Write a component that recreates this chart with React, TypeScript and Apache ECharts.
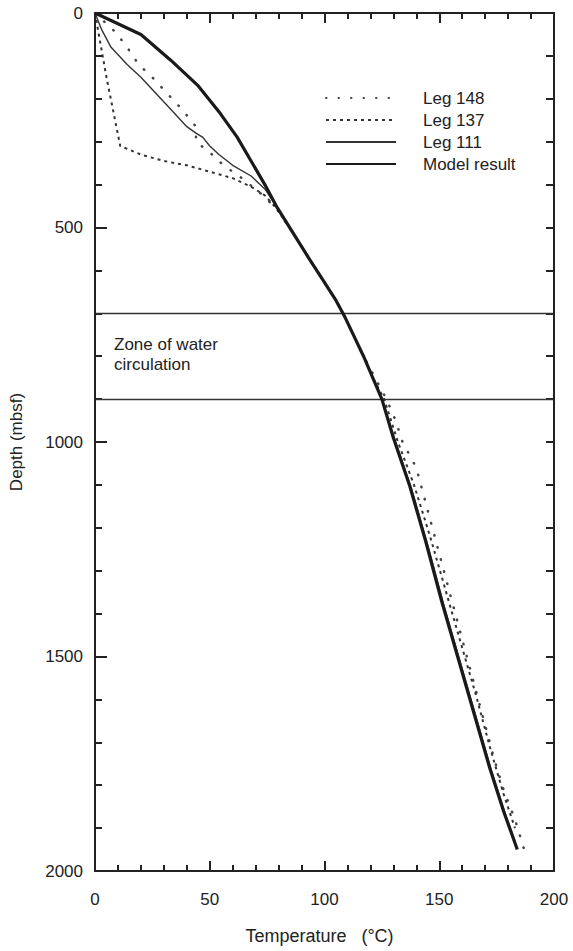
import React, { useEffect, useRef } from "react";
import * as echarts from "echarts";

// [temperature °C, depth mbsf]
const model: [number, number][] = [
  [0, 0], [20, 50], [33, 110], [45, 170], [54, 230], [62, 290], [68, 345], [74, 400], [79, 450],
  [86, 510], [93, 570], [99, 620], [105, 670], [109, 710], [113, 755], [117, 800], [121, 850],
  [125, 900], [130, 990], [137, 1100], [144, 1230], [151, 1370], [158, 1500],
  [165, 1630], [172, 1760], [178, 1860], [184, 1950],
];
const leg111: [number, number][] = [
  [0, 0], [3, 40], [7, 80], [14, 120], [20, 150], [27, 190], [34, 230], [40, 265], [44, 280], [47, 290],
  [50, 310], [54, 330], [60, 355], [68, 380], [74, 410], [79, 450], [86, 510], [93, 570], [99, 620],
  [105, 670], [109, 710], [113, 755], [117, 800], [121, 850], [125, 900], [131, 1000],
  [138, 1110], [145, 1240], [152, 1380], [159, 1510], [166, 1640], [173, 1770], [179, 1870], [183, 1930],
];
const leg137: [number, number][] = [
  [0, 0], [2, 60], [5, 150], [8, 230], [11, 310], [20, 330], [30, 345], [40, 355], [50, 370], [60, 385],
  [68, 405], [74, 425], [79, 455], [86, 510], [93, 570], [99, 620], [105, 670], [109, 710], [113, 755],
  [117, 800], [121, 850], [126, 900], [132, 1000], [139, 1100], [146, 1220], [153, 1350],
  [160, 1480], [166, 1590], [172, 1710], [178, 1820], [183, 1900],
];
const leg148: [number, number][] = [
  [0, 0], [9, 45], [14, 80], [19, 120], [25, 150], [31, 185], [38, 225], [44, 265], [44, 300], [50, 325],
  [56, 355], [64, 385], [72, 420], [79, 455], [86, 510], [93, 570], [99, 620], [105, 670], [109, 710],
  [113, 755], [117, 800], [122, 850], [127, 900], [131, 950], [134, 1000], [140, 1060],
  [143, 1120], [146, 1180], [150, 1260], [154, 1340], [158, 1420], [162, 1500], [166, 1580],
  [170, 1660], [174, 1740], [178, 1810], [183, 1880], [187, 1950],
];
const zoneLines = [700, 900];
const xTicks = [0, 50, 100, 150, 200];
const yTicks = [0, 500, 1000, 1500, 2000];

const FONT = "Liberation Sans, Arial, Helvetica, sans-serif";
const INK = "#222222";

const GRID = { left: 95, right: 19, top: 13, bottom: 80 };

function lineStyle() {
  return { color: INK, width: 2 };
}

function makeX(position: "top" | "bottom", showLabels: boolean) {
  return {
    type: "value",
    position,
    min: xTicks[0],
    max: xTicks[xTicks.length - 1],
    interval: 50,
    axisLine: { show: true, onZero: false, lineStyle: lineStyle() },
    axisTick: { show: true, inside: true, length: 10, lineStyle: lineStyle() },
    minorTick: { show: true, splitNumber: 5, length: 6, lineStyle: lineStyle() },
    splitLine: { show: false },
    axisLabel: showLabels
      ? { show: true, fontFamily: FONT, fontSize: 17, color: INK, margin: 20, formatter: (v: number) => String(v) }
      : { show: false },
  };
}

function makeY(position: "left" | "right", showLabels: boolean, major: number, minor: number) {
  return {
    type: "value",
    position,
    inverse: true,
    min: yTicks[0],
    max: yTicks[yTicks.length - 1],
    interval: 500,
    axisLine: { show: true, onZero: false, lineStyle: lineStyle() },
    axisTick: { show: true, inside: true, length: major, lineStyle: lineStyle() },
    minorTick: { show: true, splitNumber: 5, length: minor, lineStyle: lineStyle() },
    splitLine: { show: false },
    axisLabel: showLabels
      ? { show: true, fontFamily: FONT, fontSize: 17, color: INK, margin: 12, formatter: (v: number) => String(v) }
      : { show: false },
  };
}

export default function App() {
  const ref = useRef<HTMLDivElement>(null);
  useEffect(() => {
    if (!ref.current) return;
    const chart = echarts.init(ref.current, null, { renderer: "svg" });
    const xBottom = {
      ...makeX("bottom", true),
      name: "Temperature   (°C)",
      nameLocation: "middle",
      nameGap: 56,
      nameTextStyle: { fontFamily: FONT, fontSize: 18, color: INK, padding: [0, 10, 0, 0] },
    };
    const yLeft = {
      ...makeY("left", true, 12, 7),
      name: "Depth (mbsf)",
      nameLocation: "middle",
      nameGap: 70,
      nameRotate: 90,
      nameTextStyle: { fontFamily: FONT, fontSize: 17, color: INK },
    };

    chart.setOption({
      animation: false,
      backgroundColor: "#ffffff",
      textStyle: { fontFamily: FONT },
      grid: { ...GRID },
      legend: {
        orient: "vertical",
        left: 320,
        top: 83,
        itemWidth: 70,
        itemHeight: 14,
        itemGap: 2,
        itemStyle: { opacity: 0 },
        textStyle: { fontFamily: FONT, fontSize: 17, lineHeight: 20, color: INK, padding: [0, 0, 0, 22] },
        data: ["Leg 148", "Leg 137", "Leg 111", "Model result"],
      },
      xAxis: [xBottom, makeX("top", false)],
      yAxis: [yLeft, makeY("right", false, 8, 8)],
      series: [
        {
          name: "Leg 148",
          type: "line",
          data: leg148,
          symbol: "none",
          itemStyle: { color: "#444" },
          lineStyle: { color: "#444", width: 2.5, type: [0.5, 12], cap: "round" },
          z: 3,
        },
        {
          name: "Leg 137",
          type: "line",
          data: leg137,
          symbol: "none",
          itemStyle: { color: "#333" },
          lineStyle: { color: "#333", width: 2, type: [3, 4] },
          z: 3,
        },
        {
          name: "Leg 111",
          type: "line",
          data: leg111,
          symbol: "none",
          itemStyle: { color: "#333" },
          lineStyle: { color: "#333", width: 1.4 },
          z: 4,
        },
        {
          name: "Model result",
          type: "line",
          data: model,
          symbol: "none",
          itemStyle: { color: "#1a1a1a" },
          lineStyle: { color: "#1a1a1a", width: 3.2 },
          z: 5,
          markLine: {
            silent: true,
            symbol: "none",
            label: { show: false },
            lineStyle: { color: "#333", width: 1.3, type: "solid" },
            data: [
              ...zoneLines.map((d) => ({ yAxis: d })),
              { yAxis: yTicks[0], lineStyle: { color: INK, width: 2 } },
              { yAxis: yTicks[yTicks.length - 1], lineStyle: { color: INK, width: 2 } },
              { xAxis: xTicks[0], lineStyle: { color: INK, width: 2 } },
              { xAxis: xTicks[xTicks.length - 1], lineStyle: { color: INK, width: 2 } },
            ],
          },
        },
      ],
      graphic: [
        {
          type: "text",
          left: 114,
          top: 334,
          style: {
            text: "Zone of water\ncirculation",
            font: `17px ${FONT}`,
            fill: INK,
            lineHeight: 20,
          },
        },
      ],
    });
    return () => chart.dispose();
  }, []);
  return (
    <div
      ref={ref}
      style={{ position: "fixed", left: 0, top: 0, width: 573, height: 951 }}
    />
  );
}
